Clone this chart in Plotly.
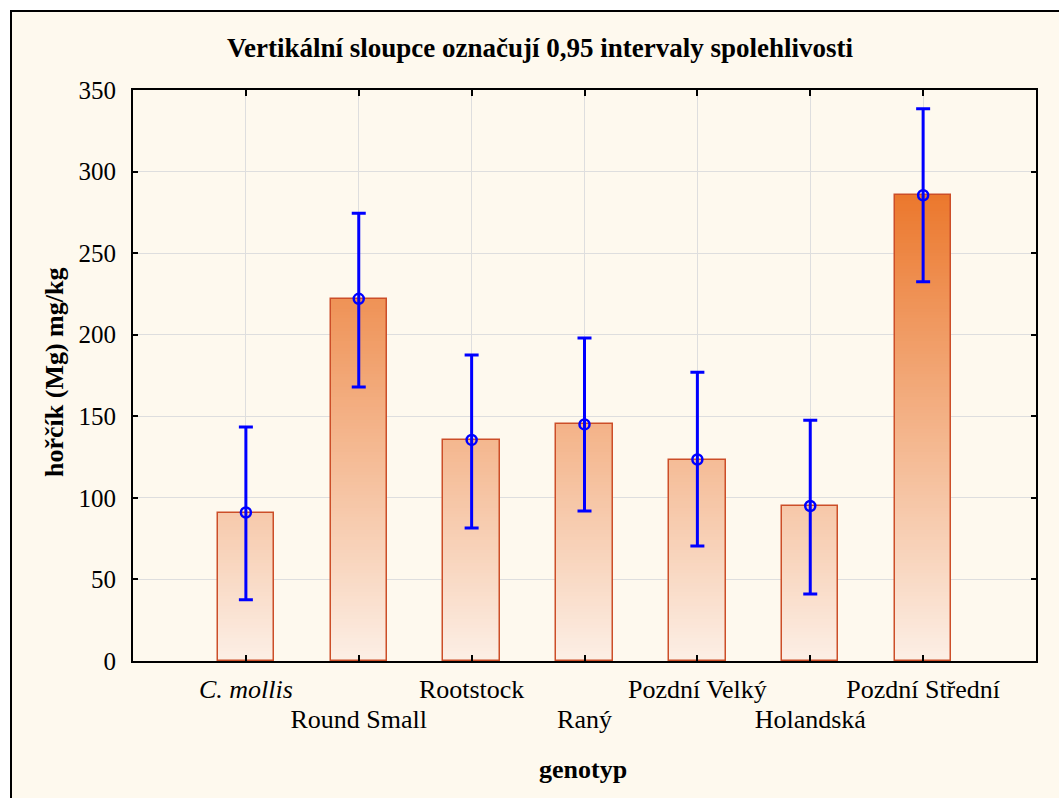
import plotly.graph_objects as go

# ---- data ----
categories = ["C. mollis", "Round Small", "Rootstock", "Raný",
              "Pozdní Velký", "Holandská", "Pozdní Střední"]
means = [91, 222, 135.5, 145, 123.5, 95, 285.5]
ci_upper = [143.5, 274.5, 187.5, 198, 177, 147.5, 338.5]
ci_lower = [37.5, 168, 81.5, 92, 70.5, 41, 232.5]
y_ticks = [0, 50, 100, 150, 200, 250, 300, 350]
title_text = "Vertikální sloupce označují 0,95 intervaly spolehlivosti"
x_title = "genotyp"
y_title = "hořčík (Mg) mg/kg"

FONT = "Liberation Serif, Times New Roman, serif"
W, H = 1059, 798
L, R, T, B = 133, 1059 - 1036, 90, 798 - 661
PW, PH = W - L - R, H - T - B

# gradient colours (absolute in y): light at 0, dark orange near the top
c0 = (252, 239, 230)
c1 = (235, 118, 42)
g_top = 290.0


def grad_color(v):
    t = max(0.0, min(1.0, v / g_top))
    r, g, b = (c0[i] + (c1[i] - c0[i]) * t for i in range(3))
    return f"rgb({r:.0f},{g:.0f},{b:.0f})"


fig = go.Figure()

bar_w = 0.5
step = 2.0
lvl = 0.0
vmax = max(means)
while lvl < vmax:
    seg = [max(0.0, min(v, lvl + step * 1.6) - lvl) for v in means]
    fig.add_trace(go.Bar(
        x=categories, y=seg, base=[lvl] * len(means), width=bar_w,
        marker=dict(color=grad_color(lvl + step / 2), line=dict(width=0)),
        hoverinfo="skip", showlegend=False))
    lvl += step

# outline of the bars
fig.add_trace(go.Bar(
    x=categories, y=means, base=[0] * len(means), width=bar_w,
    marker=dict(color="rgba(0,0,0,0)", line=dict(color="rgb(204,78,40)", width=1.5)),
    hoverinfo="skip", showlegend=False))

# means with 0.95 confidence intervals
fig.add_trace(go.Scatter(
    x=categories, y=means, mode="markers",
    marker=dict(symbol="circle-open", size=10, color="#0000FF", line=dict(width=2.5, color="#0000FF")),
    error_y=dict(type="data", symmetric=False,
                 array=[u - m for u, m in zip(ci_upper, means)],
                 arrayminus=[m - l for m, l in zip(means, ci_lower)],
                 color="#0000FF", thickness=3, width=7),
    showlegend=False))

# invisible helper trace so that the second (staggered-label) x axis is drawn
fig.add_trace(go.Scatter(
    x=categories, y=means, xaxis="x2", mode="markers",
    marker=dict(opacity=0), hoverinfo="skip", showlegend=False))

row1_vals, row1_text, row2_vals, row2_text = [], [], [], []
for i, c in enumerate(categories):
    s = f"<i>{c}</i>" if c.startswith("C. ") else c
    if i % 2 == 0:
        row1_vals.append(c)
        row1_text.append(s)
    else:
        row2_vals.append(c)
        row2_text.append(s)


def px_x(p):
    return (p - L) / PW


def px_y(p):
    return (H - B - p) / PH


fig.update_layout(
    width=W, height=H,
    margin=dict(l=L, r=R, t=T, b=B, autoexpand=False),
    paper_bgcolor="white", plot_bgcolor="white",
    barmode="overlay", bargap=0,
    font=dict(family=FONT, color="black", size=26),
    title=dict(text=f"<b>{title_text}</b>", x=540 / W, xanchor="center",
               y=1 - 48 / H, yanchor="middle", font=dict(family=FONT, size=27)),
    xaxis=dict(type="category", range=[-1, len(categories)],
               tickmode="array",
               tickvals=categories,
               ticktext=[row1_text[row1_vals.index(c)] if c in row1_vals else "" for c in categories],
               tickangle=0,
               ticks="inside", ticklen=6, tickwidth=2, tickcolor="black",
               showline=True, linecolor="black", linewidth=2, mirror="ticks",
               showgrid=True, gridcolor="#DEDEDE", gridwidth=1,
               tickfont=dict(family=FONT, size=26), ticklabelstandoff=4),
    xaxis2=dict(type="category", range=[-1, len(categories)], overlaying="x",
                anchor="y", side="bottom",
                tickmode="array", tickvals=row2_vals, ticktext=row2_text, tickangle=0,
                ticks="", showline=False, showgrid=False, zeroline=False,
                tickfont=dict(family=FONT, size=26), ticklabelstandoff=40),
    yaxis=dict(range=[0, 350], tickmode="array", tickvals=y_ticks,
               ticks="inside", ticklen=5, tickwidth=2, tickcolor="black",
               showline=True, linecolor="black", linewidth=2, mirror="ticks",
               showgrid=True, gridcolor="#DEDEDE", gridwidth=1, zeroline=False,
               tickfont=dict(family=FONT, size=25), ticklabelstandoff=10),
    shapes=[dict(type="rect", xref="paper", yref="paper",
                 x0=px_x(11), x1=px_x(1075), y0=px_y(815), y1=px_y(11),
                 fillcolor="#FEF9EE", line=dict(color="black", width=2), layer="below")],
    annotations=[
        dict(text=f"<b>{x_title}</b>", xref="paper", yref="paper",
             x=px_x(583), y=px_y(769), showarrow=False, xanchor="center", yanchor="middle",
             font=dict(family=FONT, size=26)),
        dict(text=f"<b>{y_title}</b>", xref="paper", yref="paper", textangle=-90,
             x=px_x(54), y=px_y(373), showarrow=False, xanchor="center", yanchor="middle",
             font=dict(family=FONT, size=26)),
    ],
)

fig.write_html("out.html", config={"displayModeBar": False},
               post_script="document.body.style.margin='0';"
                           "document.body.style.overflow='hidden';")
